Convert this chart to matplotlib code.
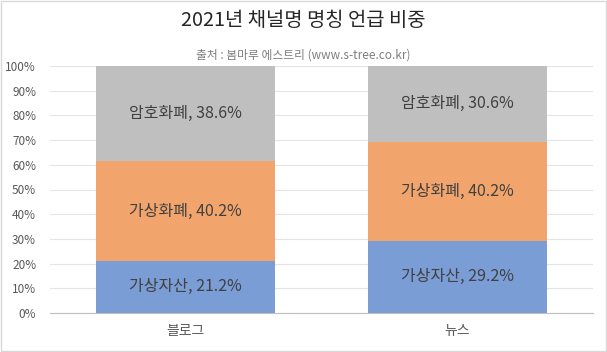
import numpy as np
import matplotlib.pyplot as plt
from matplotlib.patches import Rectangle

plt.rcParams['font.family'] = ['Noto Sans CJK KR', 'DejaVu Sans']

categories = ["블로그", "뉴스"]
series_names = ["가상자산", "가상화폐", "암호화폐"]
values = {
    "가상자산": [21.2, 29.2],
    "가상화폐": [40.2, 40.2],
    "암호화폐": [38.6, 30.6],
}
colors = ["#7A9DD5", "#F1A56D", "#BFBFBF"]
yticks = np.arange(0, 101, 10)

fig = plt.figure(figsize=(6.07, 3.52), dpi=100)
ax = fig.add_axes([50 / 607, 1 - 313 / 352, 543 / 607, 247 / 352])

x = np.arange(len(categories))
bottom = np.zeros(len(categories))
for name, c in zip(series_names, colors):
    v = np.array(values[name])
    ax.bar(x, v, 0.66, bottom=bottom, color=c, zorder=2)
    for xi, b, vi in zip(x, bottom, v):
        ax.text(xi, b + vi / 2, f"{name}, {vi:.1f}%", ha="center", va="center",
                fontsize=11.5, color="#404040", zorder=3)
    bottom += v

ax.set_xlim(-0.5, 1.5)
ax.set_ylim(0, 100)
ax.set_yticks(yticks)
ax.set_yticklabels([f"{t}%" for t in yticks], fontsize=8.5, color="#595959")
ax.set_xticks(x)
ax.set_xticklabels(categories, fontsize=10, color="#595959")
ax.tick_params(length=0, pad=8)
ax.tick_params(axis="y", pad=10)
ax.grid(axis="y", color="#E4E4E4", linewidth=0.8, zorder=0)
for s in ["top", "right", "left"]:
    ax.spines[s].set_visible(False)
ax.spines["bottom"].set_color("#BFBFBF")

fig.text(0.5, 1 - 20 / 352, "2021년 채널명 명칭 언급 비중", ha="center", va="center",
         fontsize=14.3, color="#262626")
fig.text(0.5, 1 - 55 / 352, "출처 : 봄마루 에스트리 (www.s-tree.co.kr)", ha="center", va="center",
         fontsize=8.5, color="#7F7F7F")

fig.patches.append(Rectangle((0.001, 0.002), 0.997, 0.995, transform=fig.transFigure,
                             fill=False, edgecolor="#D9D9D9", linewidth=1))

fig.savefig("out.png", dpi=100)
